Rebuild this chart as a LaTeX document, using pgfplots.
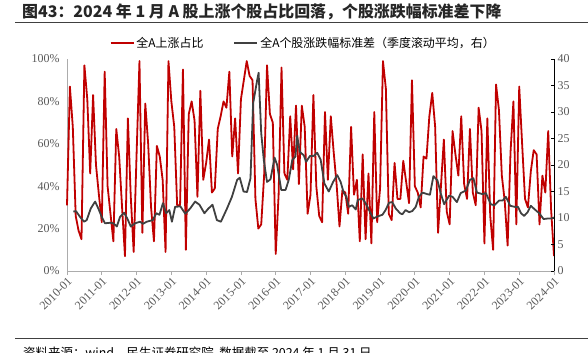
\documentclass[border=0pt]{standalone}
\usepackage{pgfplots}
\pgfplotsset{compat=1.18}
\usepackage{pgfplotstable}
\usepackage{fontspec}
\setmainfont{Liberation Serif}
\newfontfamily\cjk{Noto Sans CJK SC}
\definecolor{redline}{HTML}{C00000}
\definecolor{grayline}{HTML}{404040}
\definecolor{ticktext}{HTML}{595959}

\pgfplotstableread{
m v
0 31
1 87
2 68
3 26
4 19
5 15
6 97
7 81
8 46
9 83
10 50
11 36
12 23
13 94
14 40
15 27
16 14
17 67
18 54
19 30
20 7
21 72
22 35
23 9
24 55
25 99
26 18
27 79
28 60
29 30
30 14
31 59
32 54
33 43
34 9
35 99
36 80
37 68
38 31
39 31
40 95
41 10
42 74
43 80
44 71
45 35
46 85
47 43
48 51
49 62
50 37
51 39
52 67
53 73
54 80
55 77
56 94
57 54
58 72
59 46
60 81
61 90
62 99
63 92
64 90
65 34
66 20
67 22
68 45
69 97
70 74
71 70
72 8
73 36
74 96
75 46
76 43
77 73
78 48
79 78
80 41
81 78
82 68
83 27
84 36
85 83
86 40
87 26
88 23
89 75
90 43
91 73
92 56
93 41
94 21
95 38
96 37
97 27
98 68
99 36
100 43
101 14
102 55
103 15
104 46
105 13
106 75
107 23
108 39
109 99
110 86
111 27
112 24
113 51
114 34
115 34
116 52
117 42
118 32
119 90
120 40
121 37
122 30
123 54
124 53
125 73
126 84
127 68
128 18
129 40
130 62
131 28
132 22
133 66
134 55
135 45
136 73
137 41
138 34
139 67
140 37
141 31
142 77
143 66
144 13
145 72
146 26
147 10
148 88
149 76
150 45
151 33
152 12
153 56
154 80
155 22
156 87
157 60
158 34
159 30
160 47
161 57
162 55
163 22
164 45
165 37
166 66
167 29
168 7
}\redtable

\pgfplotstableread{
m v
2.2 11.2
3.1 11.3
4.5 10.2
5.9 9.3
6.8 9.6
8.2 11.8
9.7 13.1
10.8 11.8
12 10.2
13.1 9.0
14.9 9.1
16 9.0
17.2 8.4
18.3 10.2
19.7 11.0
20.8 9.9
22 8.4
23.5 9.0
25.2 9.3
26.2 8.9
27.5 9.3
29.6 9.6
30.8 10.9
31.9 10.6
33.1 12.8
34.2 10.9
35.3 11.5
36.2 9.3
37.3 12.1
39.1 12.2
40.8 10.8
42.5 11.8
44.2 13.1
45.7 12.5
47.4 10.9
48.8 11.8
50.2 12.5
51.7 9.6
53.1 9.3
55.2 11.8
56.9 14.0
58.7 17.2
59.6 17.6
60.9 15.0
62.1 14.9
63.3 17.5
64.2 31.6
65.6 36.0
66.1 37.4
67 26
67.9 20.9
69 16.8
70.2 17.3
71.6 21.4
72.5 20
73.9 15.3
75.4 15.3
76.5 17.2
77.7 20.9
78.8 21.6
79.4 25.5
80.3 22.5
81.7 21.8
82.5 20.6
83.8 21.7
85.1 21.7
86.3 22.3
87.5 21
88.8 16.5
90.3 15
91.8 16.8
93.2 18.1
94.4 16.8
95.5 14.7
96.4 14
97.2 12.1
98.4 12.4
99.6 11.6
100.3 13.4
101.9 13.7
103 12.8
104.1 11.6
105.7 9.9
107.1 10.3
108.8 10.6
109.9 11.5
111.1 12.9
112.2 13
113.4 11.8
114.9 10.9
115.7 10.7
116.8 11.5
118 11.1
119.1 11.3
120.3 12.1
121.4 14.0
122.6 14.8
124.3 14.5
125.2 14.4
126.4 17.9
127.8 17.1
128.9 14.7
130.1 12.6
131.8 14.2
133 14.0
134.5 13.0
135.8 14.7
137.6 15.2
139 17.2
140.2 17.5
141.4 14.8
143.4 14.5
144.5 14.7
146.2 12.6
147.4 12.4
149.1 13.3
150.3 13.3
151.4 14.0
152.9 12.3
154.5 12.1
155.6 12.1
156.6 10.9
157.7 10.4
158.9 11.1
160 12.3
161.4 11.6
162.9 10.9
164.4 9.8
165.8 9.9
167 9.9
168 10.1
}\graytable

\begin{document}
\begin{tikzpicture}
\node[anchor=west, font=\cjk\bfseries\fontsize{16}{18}\selectfont, text=black!85, inner sep=0] at (22bp,341.5bp) {图43：2024 年 1 月 A 股上涨个股占比回落，个股涨跌幅标准差下降};
\draw[line width=1.3bp, black!75] (15bp,330.3bp) -- (588bp,330.3bp);
\draw[line width=0.8bp, black!75] (15bp,15bp) -- (588bp,15bp);
\node[anchor=north west, inner sep=0, font=\cjk\fontsize{12.5}{14}\selectfont] at (23bp,6bp) {资料来源：wind，民生证券研究院\ \ 数据截至 2024 年 1 月 31 日};

\begin{axis}[
  at={(67bp,82bp)}, anchor=south west, scale only axis,
  width=487bp, height=212bp,
  xmin=0, xmax=168, ymin=0, ymax=100,
  axis x line*=bottom, axis y line*=left,
  axis line style={draw=gray!65, line width=0.8bp, -},
  xtick={0,12,...,168},
  xticklabels={2010-01,2011-01,2012-01,2013-01,2014-01,2015-01,2016-01,2017-01,2018-01,2019-01,2020-01,2021-01,2022-01,2023-01,2024-01},
  xtick style={draw=gray!65, line width=0.8bp},
  tick align=outside, major tick length=4bp,
  xticklabel style={rotate=45, anchor=north east, inner sep=1bp, font=\fontsize{12}{14}\selectfont, text=ticktext},
  ytick={0,20,...,100},
  yticklabel={\pgfmathprintnumber{\tick}\%},
  /pgf/number format/assume math mode=true,
  ytick style={draw=none},
  yticklabel style={font=\fontsize{12}{14}\selectfont, text=ticktext},
  clip=false,
]
\addplot[redline, line width=1.8bp, line join=round] table[x=m, y=v] {\redtable};
\end{axis}

\begin{axis}[
  at={(67bp,82bp)}, anchor=south west, scale only axis,
  width=487bp, height=212bp,
  xmin=0, xmax=168, ymin=0, ymax=40,
  axis x line=none, axis y line*=right,
  y axis line style={draw=black, line width=1bp, -},
  ytick={0,5,...,40},
  tick align=inside, major tick length=3bp,
  ytick style={draw=black, line width=0.8bp},
  /pgf/number format/assume math mode=true,
  yticklabel style={font=\fontsize{12}{14}\selectfont, text=ticktext},
  legend style={at={(0.485,1.075)}, anchor=center, draw=none, fill=none,
    legend columns=2, font=\cjk\fontsize{12}{14}\selectfont,
    /tikz/every even column/.append style={column sep=28bp}},
  legend image code/.code={\draw[#1] (0bp,0bp) -- (23bp,0bp);},
  clip=false,
]
\addlegendimage{redline, line width=1.8bp}
\addlegendentry{全A上涨占比}
\addplot[grayline, line width=1.8bp, line join=round] table[x=m, y=v] {\graytable};
\addlegendentry{全A个股涨跌幅标准差（季度滚动平均，右）}
\end{axis}
\pgfresetboundingbox
\path[use as bounding box] (0bp,0bp) rectangle (588bp,353bp);
\end{tikzpicture}
\end{document}
